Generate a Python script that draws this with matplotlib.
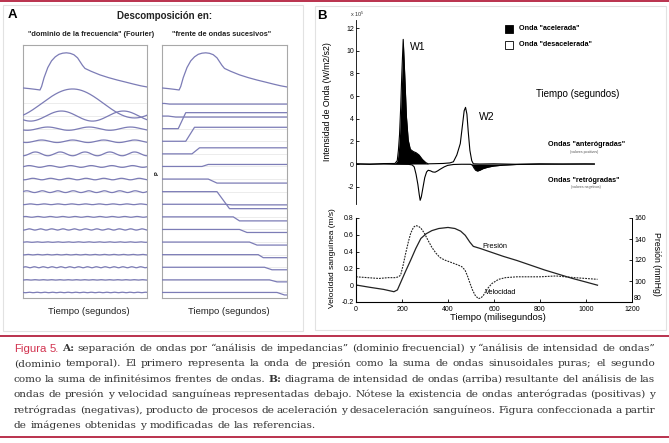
import numpy as np
import matplotlib
matplotlib.use('Agg')
import matplotlib.pyplot as plt
from matplotlib.patches import Rectangle
from matplotlib.lines import Line2D

# ---------------- data ----------------
# Panel A: pressure waveform (fraction of cycle, arbitrary units = row spacing)
wave_t = [0, 0.05, 0.10, 0.137, 0.15, 0.17, 0.20, 0.23, 0.26, 0.29, 0.32, 0.35, 0.38,
          0.41, 0.44, 0.46, 0.48, 0.50, 0.55, 0.62, 0.69, 0.76, 0.83, 0.89, 0.95, 1.0]
wave_v = [1.23, 1.18, 1.12, 1.07, 1.35, 2.05, 2.85, 3.38, 3.70, 3.90, 3.99, 4.02, 3.98,
          3.87, 3.62, 3.32, 3.02, 2.78, 2.55, 2.27, 2.05, 1.86, 1.69, 1.54, 1.40, 1.31]
# Fourier components: harmonic number, amplitude, position of first peak
harmonics = list(range(1, 17))
harm_amp = [1.15, 0.40, 0.13, 0.10, 0.15, 0.07, 0.06, 0.07, 0.03, 0.03, 0.05, 0.02,
            0.02, 0.04, 0.015, 0.02]
harm_peak = [0.40, 0.31, 0.20, 0.15, 0.10, 0.05, 0.08, 0.03, 0.06, 0.02, 0.05, 0.03,
             0.04, 0.02, 0.03, 0.05]
# Successive wavefronts: step size, ramp start, ramp end
step_delta = [-0.05, -0.08, 1.27, 1.11, 0.48, 0.16, -0.32, -1.35, -0.05, -0.32, -0.24,
              -0.24, -0.24, -0.20, -0.16, -0.20]
step_start = [0.02, 0.05, 0.13, 0.19, 0.24, 0.32, 0.37, 0.44, 0.50, 0.57, 0.62, 0.70,
              0.77, 0.82, 0.86, 0.92]
step_end = [0.06, 0.11, 0.19, 0.26, 0.30, 0.37, 0.44, 0.54, 0.56, 0.62, 0.68, 0.76,
            0.81, 0.88, 0.92, 0.98]

# Panel B: wave intensity (x 1e5)
fwd_t = [0, 60, 120, 170, 180, 185, 190, 195, 200, 206, 212, 220, 228, 237, 250, 262,
         275, 290, 305, 315, 340, 380, 410, 425, 440, 455, 465, 472, 478, 484, 490, 497,
         505, 512, 540, 600, 700, 800, 900, 1000, 1040]
fwd_v = [0.02, -0.03, 0.04, 0.05, 0.3, 1.2, 2.6, 5.0, 8.0, 11.0, 8.2, 4.2, 2.1, 1.3, 1.1,
         1.0, 0.8, 0.4, 0.12, 0.02, 0.03, 0.05, 0.1, 0.2, 0.8, 1.8, 3.5, 4.7, 5.0, 4.4,
         2.8, 1.2, 0.3, 0.02, 0.0, 0.02, -0.02, 0.02, 0.0, 0.01, 0.0]
bwd_t = [0, 150, 230, 245, 254, 262, 270, 276, 280, 285, 292, 300, 308, 315, 325, 335,
         345, 355, 368, 385, 400, 425, 460, 500, 508, 515, 522, 530, 540, 555, 575, 600,
         640, 700, 800, 900, 1040]
bwd_v = [0, 0, -0.03, -0.08, -0.25, -0.9, -1.8, -2.7, -3.2, -2.9, -2.1, -1.2, -0.7, -0.55,
         -0.6, -0.7, -0.72, -0.62, -0.45, -0.25, -0.12, -0.04, -0.02, -0.02, -0.1, -0.35,
         -0.55, -0.62, -0.55, -0.4, -0.28, -0.18, -0.1, -0.04, -0.02, -0.01, 0]
# Panel B: pressure (mmHg) and velocity (m/s)
p_t = [0, 60, 120, 165, 180, 195, 215, 238, 260, 282, 305, 330, 360, 400, 430, 455, 475,
       495, 510, 540, 580, 640, 700, 760, 820, 880, 940, 1000, 1050]
p_v = [96.2, 94, 92, 89.8, 91.5, 99, 109, 120, 131, 140.5, 145, 148, 150, 151, 150, 147.5,
       143.5, 137, 133, 131, 128, 123.5, 119.5, 115, 110.5, 106.5, 102.5, 99, 96]
v_t = [0, 50, 100, 140, 172, 185, 194, 205, 216, 228, 238, 250, 260, 272, 282, 297, 312,
       330, 348, 365, 385, 415, 444, 460, 474, 486, 496, 507, 518, 532, 544, 554, 572, 591,
       620, 650, 700, 800, 870, 950, 1050]
v_v = [0.10, 0.09, 0.08, 0.09, 0.09, 0.10, 0.12, 0.24, 0.38, 0.52, 0.62, 0.69, 0.71, 0.70,
       0.68, 0.62, 0.54, 0.45, 0.38, 0.33, 0.30, 0.27, 0.24, 0.22, 0.18, 0.10, 0.02, -0.06,
       -0.12, -0.16, -0.15, -0.12, -0.04, 0.02, 0.07, 0.09, 0.10, 0.10, 0.11, 0.09, 0.07]

wi_ticks = [-2, 0, 2, 4, 6, 8, 10, 12]
vel_ticks = [-0.2, 0, 0.2, 0.4, 0.6, 0.8]
vel_ticklabels = ['-0.2', '0', '0.2', '0.4', '0.6', '0.8']
pres_ticks = [80, 100, 120, 140, 160]
time_ticks = [0, 200, 400, 600, 800, 1000, 1200]

caption_lines = [
    "Figura 5. A: separación de ondas por “análisis de impedancias” (dominio frecuencial) y “análisis de intensidad de ondas”",
    "(dominio temporal). El primero representa la onda de presión como la suma de ondas sinusoidales puras; el segundo",
    "como la suma de infinitésimos frentes de ondas. B: diagrama de intensidad de ondas (arriba) resultante del análisis de las",
    "ondas de presión y velocidad sanguíneas representadas debajo. Nótese la existencia de ondas anterógradas (positivas) y",
    "retrógradas (negativas), producto de procesos de aceleración y desaceleración sanguíneos. Figura confeccionada a partir",
    "de imágenes obtenidas y modificadas de las referencias.",
]

# ---------------- layout helpers ----------------
W, H = 669, 443
plt.rcParams['font.family'] = ['Liberation Sans', 'DejaVu Sans']
plt.rcParams['axes.unicode_minus'] = False
plt.rcParams['mathtext.fontset'] = 'custom'
plt.rcParams['mathtext.rm'] = 'Liberation Sans'

fig = plt.figure(figsize=(W / 100, H / 100), dpi=100)
fig.patch.set_facecolor('white')


def rect(x0, y0, x1, y1):
    return [x0 / W, 1 - y1 / H, (x1 - x0) / W, (y1 - y0) / H]


def fx(x):
    return x / W


def fy(y):
    return 1 - y / H


RED = '#b4213f'
RED2 = '#d2324f'
TXT = '#353535'
LAV = '#7c7cb6'


def ftext(x, y, s, **kw):
    kw.setdefault('ha', 'center')
    kw.setdefault('va', 'center')
    return fig.text(fx(x), fy(y), s, **kw)


# frames and rules
fig.add_artist(Rectangle((fx(3), fy(331)), 300 / W, 326 / H, transform=fig.transFigure,
                         fill=False, ec='#e2e2e2', lw=0.8))
fig.add_artist(Rectangle((fx(315), fy(330)), 351 / W, 324 / H, transform=fig.transFigure,
                         fill=False, ec='#e2e2e2', lw=0.8))
for yy in (1, 336, 437):
    fig.add_artist(Line2D([0, 1], [fy(yy), fy(yy)], transform=fig.transFigure,
                          color=RED, lw=1.3))

# ---------------- Panel A ----------------
ylimA = (-15.44, 4.64)
axL = fig.add_axes(rect(23, 45, 147, 298))
axR = fig.add_axes(rect(162, 45, 287, 298))
xs = np.linspace(0, 1, 500)
for ax in (axL, axR):
    ax.set_xlim(0, 1)
    ax.set_ylim(*ylimA)
    ax.set_xticks([])
    ax.set_yticks([])
    for sp in ax.spines.values():
        sp.set_color('#a8a8a8')
        sp.set_linewidth(0.8)
    for i in range(len(harmonics)):
        ax.axhline(-i, color='#e4e4e4', lw=0.5, zorder=1)
    ax.plot(wave_t, wave_v, color=LAV, lw=0.9, zorder=3)

for i, n in enumerate(harmonics):
    yv = -i + harm_amp[i] * np.cos(2 * np.pi * n * (xs - harm_peak[i]))
    axL.plot(xs, yv, color=LAV, lw=0.9, zorder=3)

for i in range(len(step_delta)):
    axR.plot([0, step_start[i], step_end[i], 1],
             [-i, -i, -i + step_delta[i], -i + step_delta[i]], color=LAV, lw=0.9, zorder=3)

ftext(12, 15, 'A', fontsize=9.5, fontweight='bold')
ftext(165, 16, 'Descomposición en:', fontsize=7, fontweight='bold', color='#222222')
ftext(91, 34, '"dominio de la frecuencia" (Fourier)', fontsize=5.3, fontweight='bold',
      color='#222222')
ftext(222, 34, '"frente de ondas sucesivos"', fontsize=5.3, fontweight='bold',
      color='#222222')
ftext(89, 312, 'Tiempo (segundos)', fontsize=6.8, color='#222222')
ftext(229, 312, 'Tiempo (segundos)', fontsize=6.8, color='#222222')
ftext(157, 173, 'P', fontsize=4, fontweight='bold', rotation=90)

# ---------------- Panel B: wave intensity ----------------
axW = fig.add_axes(rect(356, 20.1, 631, 203.7))
axW.set_facecolor('none')
axW.set_xlim(0, 1200)
axW.set_ylim(-3.5, 12.7)
for s in ('top', 'right', 'bottom'):
    axW.spines[s].set_visible(False)
axW.spines['left'].set_linewidth(0.6)
axW.set_xticks([])
axW.set_yticks(wi_ticks)
axW.set_yticklabels([str(t) for t in wi_ticks])
axW.tick_params(axis='y', direction='in', length=2.5, width=0.6, labelsize=5, pad=1.5)

ft = np.array(fwd_t)
fv = np.array(fwd_v)
bt = np.array(bwd_t)
bv = np.array(bwd_v)
axW.fill_between(ft, 0, fv, where=(ft >= 170) & (ft <= 320), color='black', lw=0,
                 interpolate=True)
axW.fill_between(bt, 0, bv, where=(bt >= 500) & (bt <= 700), color='black', lw=0,
                 interpolate=True)
axW.plot(ft, fv, color='black', lw=0.8)
axW.plot(bt, bv, color='black', lw=0.8)

ftext(322, 16, 'B', fontsize=9.5, fontweight='bold')
ftext(357, 14, r'x 10$^5$', fontsize=4, color='#333333')
ftext(327, 102, 'Intensidad de Onda (W/m2/s2)', fontsize=6.3, rotation=90)
fig.add_artist(Rectangle((fx(505), fy(33)), 8 / W, 8 / H, transform=fig.transFigure,
                         fc='black', ec='black', lw=0.6))
fig.add_artist(Rectangle((fx(505), fy(49)), 8 / W, 8 / H, transform=fig.transFigure,
                         fc='white', ec='black', lw=0.6))
ftext(519, 29, 'Onda "acelerada"', fontsize=5.2, fontweight='bold', ha='left')
ftext(519, 45, 'Onda "desacelerada"', fontsize=5.2, fontweight='bold', ha='left')
ftext(418, 47, 'W1', fontsize=7.5)
ftext(487, 117, 'W2', fontsize=7.5)
ftext(578, 94, 'Tiempo (segundos)', fontsize=7)
ftext(587, 144, 'Ondas "anterógradas"', fontsize=5.2, fontweight='bold')
ftext(584, 152, '(valores positivos)', fontsize=2.5, color='#555555')
ftext(584, 180, 'Ondas "retrógradas"', fontsize=5.2, fontweight='bold')
ftext(586, 187, '(valores negativos)', fontsize=2.5, color='#555555')

# ---------------- Panel B: velocity / pressure ----------------
axP = fig.add_axes(rect(356, 218, 632, 302))
axP.set_facecolor('none')
axP.set_xlim(0, 1200)
axP.set_ylim(-0.2, 0.8)
axP.spines['top'].set_visible(False)
for s in ('left', 'bottom', 'right'):
    axP.spines[s].set_linewidth(0.6)
axP.set_xticks(time_ticks)
axP.set_xticklabels([str(t) for t in time_ticks])
axP.set_yticks(vel_ticks)
axP.set_yticklabels(vel_ticklabels)
axP.tick_params(direction='in', length=2.5, width=0.6, labelsize=5, pad=1.5)
axP.tick_params(axis='x', pad=3)
axP.plot(v_t, v_v, color='#222222', lw=0.8, ls=(0, (1.6, 1.0)))

ax2 = axP.twinx()
ax2.set_facecolor('none')
ax2.set_ylim(80, 160)
ax2.spines['top'].set_visible(False)
ax2.spines['right'].set_linewidth(0.6)
ax2.set_yticks(pres_ticks)
ax2.set_yticklabels([str(t) for t in pres_ticks])
ax2.tick_params(direction='in', length=2.5, width=0.6, labelsize=5, pad=1.5)
ax2.get_yticklabels()[0].set_va('bottom')
ax2.plot(p_t, p_v, color='#222222', lw=0.9)

ftext(333, 258, 'Velocidad sanguínea (m/s)', fontsize=6, rotation=90)
ftext(657, 264, 'Presión (mmHg)', fontsize=6.3, rotation=270)
ftext(498, 317, 'Tiempo (milisegundos)', fontsize=6.8)
ftext(495, 247, 'Presión', fontsize=5.3)
ftext(501, 292, 'Velocidad', fontsize=5.3)

# ---------------- caption (justified) ----------------
renderer = fig.canvas.get_renderer()
cap_y = [348.5, 363.9, 379.3, 394.7, 410.1, 425.5]
x_left, x_right = 14, 655
SERIF = ['DejaVu Serif']
# size the caption so that the last (unjustified) line ends where it does in the figure
probe = fig.text(0, 0, caption_lines[-1], family=SERIF, fontsize=10)
w10 = probe.get_window_extent(renderer).width
probe.remove()
CAP_FS = 10 * (316 - x_left) / w10
for li, line in enumerate(caption_lines):
    words = line.split(' ')
    arts = []
    for wi_, w in enumerate(words):
        if li == 0 and wi_ < 2:
            kw = dict(color=RED2, family=['Liberation Sans'], fontsize=CAP_FS * 1.08)
        elif w in ('A:', 'B:'):
            kw = dict(color=TXT, family=SERIF, fontweight='bold', fontsize=CAP_FS)
        else:
            kw = dict(color=TXT, family=SERIF, fontsize=CAP_FS)
        t = fig.text(0, fy(cap_y[li]), w, va='center', ha='left', **kw)
        arts.append(t)
    widths = [t.get_window_extent(renderer).width for t in arts]
    if li < len(caption_lines) - 1:
        gap = max(1.2, (x_right - x_left - sum(widths)) / (len(words) - 1))
    else:
        gap = (316 - x_left - sum(widths)) / (len(words) - 1)
    x = x_left
    for t, wd in zip(arts, widths):
        t.set_x(fx(x))
        x += wd + gap

fig.savefig('out.png', dpi=100)
